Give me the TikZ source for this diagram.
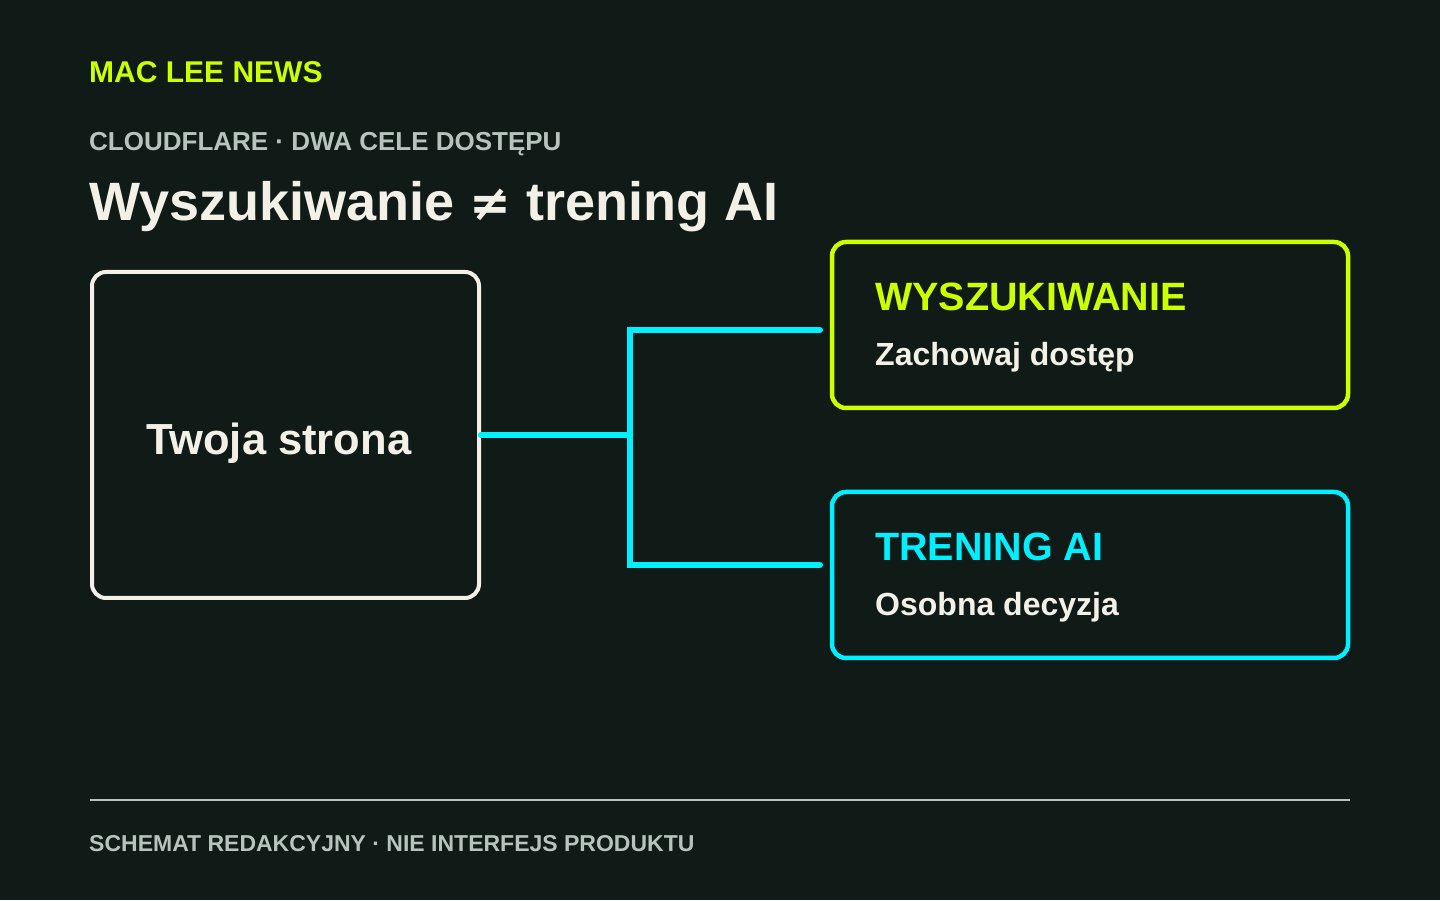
\documentclass[tikz,border=0pt]{standalone}
\usepackage{fontspec}
\setmainfont{Liberation Sans}
\newfontfamily\symfont{DejaVu Sans}
\usetikzlibrary{positioning}

\definecolor{bgdark}{HTML}{101A17}
\definecolor{lime}{HTML}{CCFF00}
\definecolor{aqua}{HTML}{00F0FF}
\definecolor{paper}{HTML}{F3F0E8}
\definecolor{slate}{HTML}{B7C3BD}

\newcommand{\pxfont}[1]{\bfseries\fontsize{#1}{#1}\selectfont}

\tikzset{
  card/.style={draw, rounded corners=14pt, line width=4.5pt, inner sep=0pt},
  txt/.style={inner sep=0pt, anchor=base west},
  branch/.style={draw=aqua, line width=6.5pt, line cap=round},
}

\begin{document}
\begin{tikzpicture}[x=1pt, y=1pt]
    \fill[bgdark] (0,0) rectangle (1440,900);
    \useasboundingbox (0,0) rectangle (1440,900);

    % header
    \node[txt, lime, font=\pxfont{30}] (brand) at (89,817) {MAC LEE NEWS};
    \node[txt, slate, font=\pxfont{26}] (kicker) at (89,749) {CLOUDFLARE · DWA CELE DOSTĘPU};
    \node[txt, paper, font=\pxfont{54}] (title) at (89,679) {Wyszukiwanie {\symfont\pxfont{50}≠} trening AI};

    % boxes
    \node[card, draw=paper, line width=4pt, minimum width=387, minimum height=326] (site) at (285.5,465) { };
    \node[txt, paper, font=\pxfont{43.5}] (sitename) at (146,445) {Twoja strona};

    \node[card, draw=lime, minimum width=516, minimum height=166] (search) at (1090,575) { };
    \node[txt, lime, font=\pxfont{39.5}] (searchhead) at (875,589) {WYSZUKIWANIE};
    \node[txt, paper, font=\pxfont{32}] (searchnote) at ([yshift=-55]searchhead.base west) {Zachowaj dostęp};

    \node[card, draw=aqua, minimum width=516, minimum height=166] (train) at (1090,325) { };
    \node[txt, aqua, font=\pxfont{39.5}] (trainhead) at (875,339) {TRENING AI};
    \node[txt, paper, font=\pxfont{32}] (trainnote) at ([yshift=-55]trainhead.base west) {Osobna decyzja};

    % connector
    \coordinate (fork) at (630,465);
    \coordinate (upper) at ([xshift=-10,yshift=-5]search.west);
    \coordinate (lower) at ([xshift=-10,yshift=10]train.west);
    \draw[branch] (site.east) -- (fork);
    \draw[branch] (upper) -| (fork) |- (lower);

    % footer
    \draw[slate, line width=2pt] (90,100) -- (1350,100);
    \node[txt, slate, font=\pxfont{23}] (footer) at (89,49) {SCHEMAT REDAKCYJNY · NIE INTERFEJS PRODUKTU};
\end{tikzpicture}
\end{document}
